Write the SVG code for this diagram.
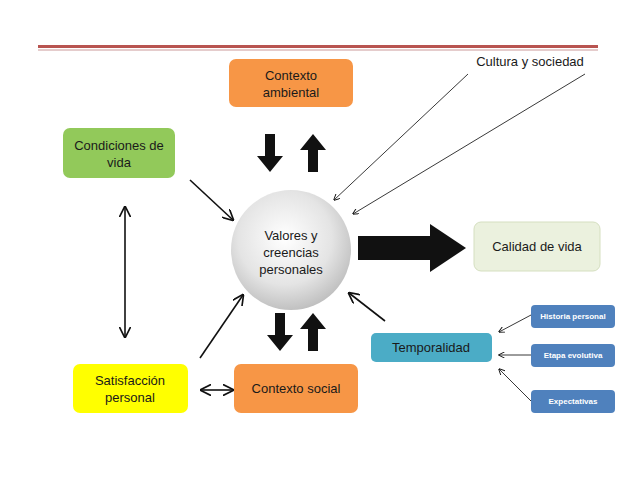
<svg xmlns="http://www.w3.org/2000/svg" width="638" height="479" viewBox="0 0 638 479">
<style>
text{font-family:"Liberation Sans",Arial,sans-serif;fill:#1a1a1a;text-anchor:middle}
.t{font-size:13px}
.s{font-size:8px;font-weight:bold;fill:#fff}
.ln{stroke:#111;stroke-width:1.6;fill:none}
.th{stroke:#222;stroke-width:0.9;fill:none}
.blk{fill:#111}
</style>
<defs>
<marker id="a" viewBox="0 0 10 10" refX="9" refY="5" markerWidth="7" markerHeight="7" orient="auto-start-reverse"><path d="M0,0L10,5L0,10" fill="none" stroke="#111" stroke-width="1.5"/></marker>
<radialGradient id="g" cx="0.45" cy="0.4" r="0.65"><stop offset="0" stop-color="#ffffff"/><stop offset="0.6" stop-color="#e4e4e4"/><stop offset="1" stop-color="#b9b9b9"/></radialGradient>
</defs>
<rect width="638" height="479" fill="#fff"/>
<rect x="38" y="45" width="560" height="3" fill="#b85450"/>
<rect x="38" y="49.5" width="560" height="1" fill="#c99"/>
<g id="connectors">
<line class="ln" x1="190" y1="180" x2="233" y2="220" marker-end="url(#a)"/>
<line class="ln" x1="125" y1="207" x2="125" y2="337" marker-start="url(#a)" marker-end="url(#a)"/>
<line class="ln" x1="200" y1="358" x2="243" y2="295" marker-end="url(#a)"/>
<line class="ln" x1="201" y1="390" x2="233" y2="390" marker-start="url(#a)" marker-end="url(#a)"/>
<line class="ln" x1="385" y1="321" x2="349" y2="293" marker-end="url(#a)"/>
<line class="th" x1="468" y1="74" x2="334" y2="200" marker-end="url(#a)"/>
<line class="th" x1="585" y1="74" x2="353" y2="214" marker-end="url(#a)"/>
<line class="th" x1="531" y1="315" x2="499" y2="332" marker-end="url(#a)"/>
<line class="th" x1="531" y1="355" x2="499" y2="355" marker-end="url(#a)"/>
<line class="th" x1="531" y1="401" x2="499" y2="369" marker-end="url(#a)"/>
<path class="blk" d="M265,134h10v22h8l-13,16l-13,-16h8z"/>
<path class="blk" d="M308,172h10v-22h8l-13,-16l-13,16h8z"/>
<path class="blk" d="M275,313h10v22h8l-13,16l-13,-16h8z"/>
<path class="blk" d="M308,351h10v-22h8l-13,-16l-13,16h8z"/>
<path class="blk" d="M358,236h72v-12l36,24l-36,24v-12h-72z"/>
</g>
<g id="cultura"><text class="t" x="530" y="66">Cultura y sociedad</text></g>
<g id="ambiental"><rect x="229" y="59" width="124" height="48" rx="7" fill="#f79646"/><text class="t" x="291" y="80">Contexto</text><text class="t" x="291" y="97">ambiental</text></g>
<g id="condiciones"><rect x="63" y="128" width="112" height="50" rx="7" fill="#92c95a"/><text class="t" x="119" y="150">Condiciones de</text><text class="t" x="119" y="167">vida</text></g>
<g id="valores"><circle cx="291" cy="250" r="60" fill="url(#g)"/><text class="t" x="291" y="240">Valores y</text><text class="t" x="291" y="257">creencias</text><text class="t" x="291" y="274">personales</text></g>
<g id="calidad"><rect x="474" y="222" width="126" height="49" rx="7" fill="#ebf1de" stroke="#d5dfc0"/><text class="t" x="537" y="251">Calidad de vida</text></g>
<g id="temporalidad"><rect x="371" y="333" width="121" height="29" rx="5" fill="#4bacc6"/><text class="t" x="431" y="352">Temporalidad</text></g>
<g id="historia"><rect x="531" y="305" width="84" height="23" rx="4" fill="#4f81bd"/><text class="s" x="573" y="319">Historia personal</text></g>
<g id="etapa"><rect x="531" y="344" width="84" height="23" rx="4" fill="#4f81bd"/><text class="s" x="573" y="358">Etapa evolutiva</text></g>
<g id="expectativas"><rect x="531" y="390" width="84" height="23" rx="4" fill="#4f81bd"/><text class="s" x="573" y="404">Expectativas</text></g>
<g id="satisfaccion"><rect x="73" y="364" width="115" height="49" rx="7" fill="#ffff00"/><text class="t" x="130" y="385">Satisfacción</text><text class="t" x="130" y="402">personal</text></g>
<g id="social"><rect x="234" y="364" width="124" height="49" rx="7" fill="#f79646"/><text class="t" x="296" y="393">Contexto social</text></g>
</svg>
